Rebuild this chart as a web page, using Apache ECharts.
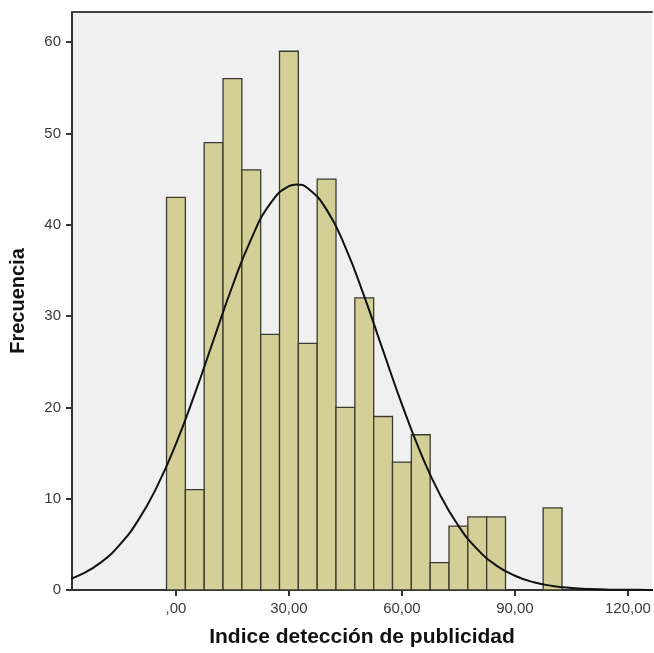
<!DOCTYPE html>
<html>
<head>
<meta charset="utf-8">
<script src="https://cdn.jsdelivr.net/npm/echarts@6/dist/echarts.min.js"></script>
<style>
  html, body { margin: 0; padding: 0; background: #fff; }
  #chart { width: 654px; height: 653px; }
</style>
</head>
<body>
<div id="chart"></div>
<script>
// centro de cada intervalo (ancho 5) y su frecuencia
const binCenters = [0, 5, 10, 15, 20, 25, 30, 35, 40, 45, 50, 55, 60, 65, 70, 75, 80, 85, 90, 95, 100];
const binCounts  = [43, 11, 49, 56, 46, 28, 59, 27, 45, 20, 32, 19, 14, 17, 3, 7, 8, 8, 0, 0, 9];
const binWidth = 5;

// curva normal
const curveX = [-30, -25, -20, -15, -10, -5, 0, 5, 10, 15, 20, 25, 30, 32, 35, 40, 45, 50, 55, 60, 65, 70, 75, 80, 85, 90, 95, 100, 105, 110, 115, 120, 125, 130];
const curveY = [0.96, 1.74, 3.0, 4.92, 7.65, 11.35, 16.0, 21.47, 27.41, 33.29, 38.46, 42.29, 44.22, 44.4, 44.0, 41.66, 37.52, 32.15, 26.21, 20.33, 15.0, 10.53, 7.03, 4.47, 2.7, 1.56, 0.85, 0.44, 0.22, 0.1, 0.04, 0.02, 0.01, 0.0];

const xTicks = [0, 30, 60, 90, 120];
const yTicks = [0, 10, 20, 30, 40, 50, 60];

const chart = echarts.init(document.getElementById('chart'));

const fmtX = function (v) {
  if (v === 0) return ',00';
  return v + ',00';
};

chart.setOption({
  animation: false,
  backgroundColor: '#ffffff',
  textStyle: { fontFamily: 'Liberation Sans, Arial, sans-serif' },
  grid: {
    left: 72,
    right: 2,
    top: 12,
    bottom: 63,
    containLabel: false,
    outerBoundsMode: 'none',
    show: true,
    backgroundColor: '#f0f0f0',
    borderWidth: 0
  },
  xAxis: [
    {
      type: 'value',
      min: -27.6,
      max: 126.4,
      name: 'Indice detección de publicidad',
      nameLocation: 'middle',
      nameGap: 37,
      nameTextStyle: { color: '#111', fontSize: 21, fontWeight: 'bold' },
      axisLine: { show: true, onZero: false, lineStyle: { color: '#333', width: 2 } },
      axisTick: { show: true, customValues: xTicks, length: 6, lineStyle: { color: '#333', width: 2 } },
      axisLabel: { customValues: xTicks, formatter: fmtX, color: '#3a3a3a', fontSize: 15, margin: 11 },
      splitLine: { show: false }
    },
    {
      // borde superior del area
      type: 'value',
      position: 'top',
      min: -27.6,
      max: 126.4,
      axisLine: { show: true, onZero: false, lineStyle: { color: '#444', width: 2 } },
      axisTick: { show: false },
      axisLabel: { show: false },
      splitLine: { show: false }
    }
  ],
  yAxis: {
    type: 'value',
    min: 0,
    max: 63.3,
    name: 'Frecuencia',
    nameLocation: 'middle',
    nameGap: 44,
    nameTextStyle: { color: '#111', fontSize: 20, fontWeight: 'bold' },
    axisLine: { show: true, onZero: false, lineStyle: { color: '#333', width: 2 } },
    axisTick: { show: true, customValues: yTicks, length: 6, lineStyle: { color: '#333', width: 2 } },
    axisLabel: { customValues: yTicks, color: '#3a3a3a', fontSize: 15, margin: 11 },
    splitLine: { show: false }
  },
  series: [
    {
      type: 'custom',
      data: binCenters.map(function (c, i) { return [c, binCounts[i]]; }),
      renderItem: function (params, api) {
        const c = api.value(0);
        const n = api.value(1);
        if (!n) return null;
        const p0 = api.coord([c - binWidth / 2, 0]);
        const p1 = api.coord([c + binWidth / 2, n]);
        return {
          type: 'rect',
          shape: { x: p0[0], y: p1[1], width: p1[0] - p0[0], height: p0[1] - p1[1] },
          style: { fill: '#d4cf97', stroke: '#3a3a30', lineWidth: 1.3 }
        };
      },
      z: 2
    },
    {
      type: 'line',
      data: curveX.map(function (x, i) { return [x, curveY[i]]; }),
      smooth: true,
      symbol: 'none',
      clip: true,
      lineStyle: { color: '#111', width: 2 },
      z: 3
    }
  ]
});
</script>
</body>
</html>
